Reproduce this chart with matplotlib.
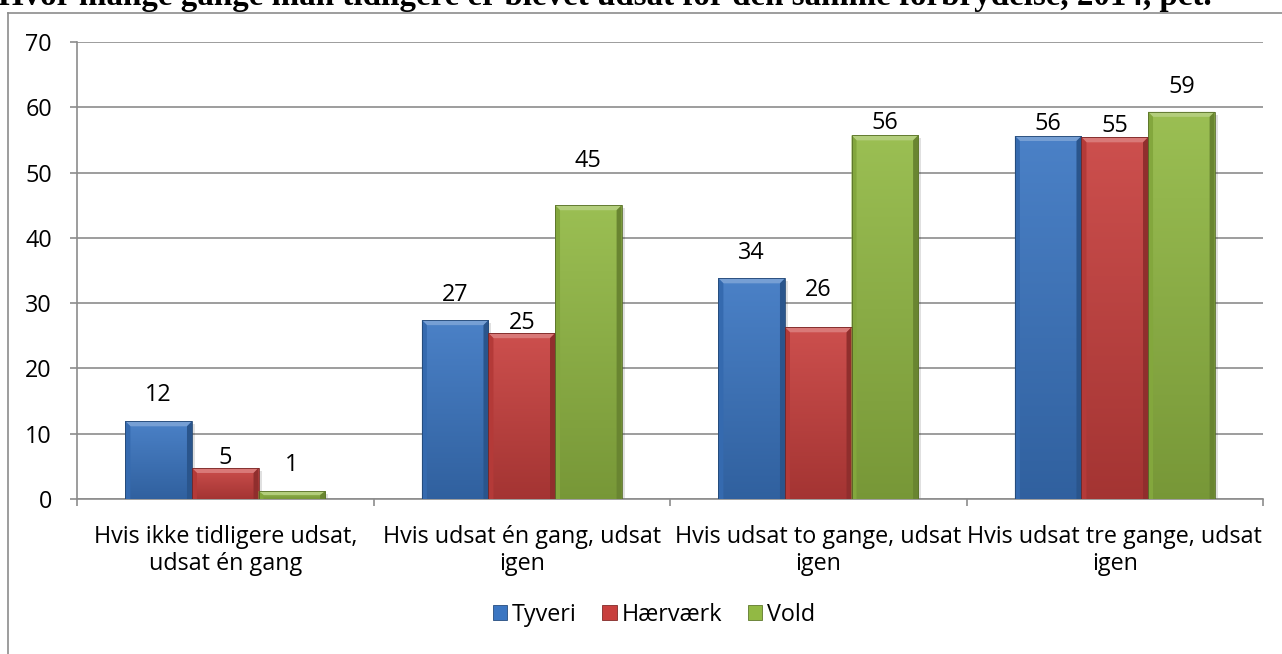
import numpy as np
import matplotlib
matplotlib.use("Agg")
import matplotlib.pyplot as plt
from matplotlib.patches import Polygon, Rectangle
from matplotlib.lines import Line2D
from matplotlib.colors import to_rgb

# --- data -------------------------------------------------------------
categories = [
    "Hvis ikke tidligere udsat,\nudsat én gang",
    "Hvis udsat én gang, udsat\nigen",
    "Hvis udsat to gange, udsat\nigen",
    "Hvis udsat tre gange, udsat\nigen",
]
series_names = ["Tyveri", "Hærværk", "Vold"]
tyveri = [11.9, 27.4, 33.8, 55.6]
haervaerk = [4.75, 25.4, 26.3, 55.4]
vold = [1.2, 45.0, 55.7, 59.3]
y_ticks = [0, 10, 20, 30, 40, 50, 60, 70]
title = "Hvor mange gange man tidligere er blevet udsat for den samme forbrydelse, 2014, pct."

# --- styling ----------------------------------------------------------
colors = ["#3b76c2", "#c8403e", "#92b944"]
# distance (points) between bar top and the centre of its value label
label_offsets = [
    [19, 18, 18, 9],
    [7, 7, 27, 8],
    [19, 32, 9, 18],
]
FONT = ["Open Sans", "DejaVu Sans"]
FS = 16.8
plt.rcParams["font.family"] = FONT

W, H, DPI = 1282, 654, 100
fig = plt.figure(figsize=(W / DPI, H / DPI), dpi=DPI)
ax = fig.add_axes([77 / W, 1 - 499 / H, (1263 - 77) / W, (499 - 42) / H])

ax.set_xlim(-0.5, len(categories) - 0.5)
ax.set_ylim(0, 70)

px_x = (1263 - 77) / (len(categories))      # pixels per x unit
px_y = (499 - 42) / 70.0                     # pixels per y unit

bar_w = 0.2245
x = np.arange(len(categories))
all_series = [tyveri, haervaerk, vold]


def shade(c, f):
    r = np.array(to_rgb(c))
    if f >= 0:
        return tuple(r + (1 - r) * f)
    return tuple(r * (1 + f))


for s, (vals, col) in enumerate(zip(all_series, colors)):
    xs = x + (s - 1) * bar_w
    bars = ax.bar(xs, vals, width=bar_w, color=col, edgecolor="none",
                  zorder=3, label=series_names[s])
    for b, v, off in zip(bars, vals, label_offsets[s]):
        x0, w = b.get_x(), b.get_width()
        # soft drop shadow
        ax.add_patch(Rectangle((x0 + 3 / px_x, -3 / px_y), w, v, color="black",
                               alpha=0.12, zorder=2.5, linewidth=0))
        # vertical gradient body
        grad = np.linspace(0, 1, 64)[:, None]
        top_c = np.array(shade(col, 0.08))
        bot_c = np.array(shade(col, -0.18))
        img = top_c[None, None, :] * (1 - grad[..., None]) + bot_c[None, None, :] * grad[..., None]
        im = ax.imshow(img, extent=(x0, x0 + w, 0, v), aspect="auto",
                       origin="upper", zorder=3.1, interpolation="bilinear")
        im.set_clip_path(b)
        # bevel
        bx = 5 / px_x
        by = 5 / px_y
        bh = min(by, v / 2)
        top = Polygon([(x0, v), (x0 + w, v), (x0 + w - bx, v - bh), (x0 + bx, v - bh)],
                      closed=True, facecolor=shade(col, 0.3), edgecolor="none", zorder=3.2)
        left = Polygon([(x0, v), (x0 + bx, v - bh), (x0 + bx, 0), (x0, 0)],
                       closed=True, facecolor=shade(col, -0.1), edgecolor="none", zorder=3.2)
        right = Polygon([(x0 + w, v), (x0 + w - bx, v - bh), (x0 + w - bx, 0), (x0 + w, 0)],
                        closed=True, facecolor=shade(col, -0.28), edgecolor="none", zorder=3.2)
        for p in (top, left, right):
            ax.add_patch(p)
        ax.add_patch(Rectangle((x0, 0), w, v, facecolor="none",
                               edgecolor=shade(col, -0.4), linewidth=0.6, zorder=3.3))
        ax.annotate(f"{v:.0f}", xy=(x0 + w / 2, v), xytext=(0, off),
                    textcoords="offset points", ha="center", va="center",
                    fontsize=FS, color="black", zorder=5)

# grid & spines
ax.set_yticks(y_ticks)
ax.set_yticklabels([str(t) for t in y_ticks], fontsize=FS)
ax.yaxis.grid(True, color="#8c8c8c", linewidth=1.2, zorder=0)
ax.set_axisbelow(True)
for side in ("top", "right"):
    ax.spines[side].set_visible(False)
for side in ("left", "bottom"):
    ax.spines[side].set_color("#8c8c8c")
    ax.spines[side].set_linewidth(1.2)
ax.tick_params(axis="y", length=5, width=1.2, color="#8c8c8c", pad=13, direction="out")

ax.set_xticks(x)
ax.set_xticklabels(categories, fontsize=FS, linespacing=1.12)
ax.set_xticks(np.arange(-0.5, len(categories), 1.0), minor=True)
ax.tick_params(axis="x", which="major", length=0, pad=19)
ax.tick_params(axis="x", which="minor", length=5, width=1.2, color="#8c8c8c", direction="out")

# legend with square keys
handles = [Rectangle((0, 0), 1, 1, facecolor=c, edgecolor=shade(c, -0.35), linewidth=0.6)
           for c in colors]
fig.legend(handles, series_names, loc="center", bbox_to_anchor=(654 / W, 1 - 615 / H),
           ncol=3, frameon=False, fontsize=FS, handlelength=0.62, handleheight=0.62,
           handletextpad=0.2, columnspacing=1.1)

# chart frame (left and top edges visible)
fig.add_artist(Line2D([8 / W, 8 / W], [0, 1 - 13 / H], transform=fig.transFigure,
                      color="#8c8c8c", linewidth=1.2))
fig.add_artist(Line2D([8 / W, 1.0], [1 - 13 / H, 1 - 13 / H], transform=fig.transFigure,
                      color="#8c8c8c", linewidth=1.2))

# heading sits above the chart frame, running off the top edge
fig.text(-2 / W, 1 - 5 / H, title, ha="left", va="baseline", fontsize=23.8,
         fontweight="bold", family="Liberation Serif", color="black")

fig.savefig("out.png", dpi=DPI)
